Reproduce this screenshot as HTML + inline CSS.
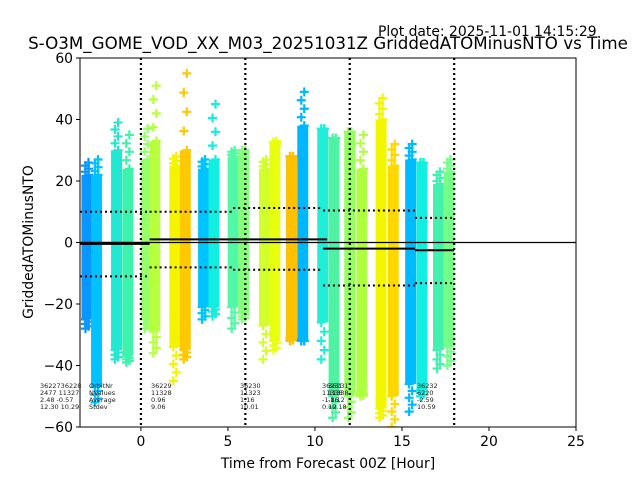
<!DOCTYPE html>
<html><head><meta charset="utf-8"><style>
body{margin:0;background:#fff;}
svg{display:block;font-family:"DejaVu Sans","Liberation Sans",sans-serif;}
</style></head><body>
<svg id="chart" width="640" height="480" xmlns="http://www.w3.org/2000/svg">
<text x="378" y="36" font-size="13.9">Plot date: 2025-11-01 14:15:29</text>
<text x="328" y="49" font-size="16.7" text-anchor="middle">S-O3M_GOME_VOD_XX_M03_20251031Z GriddedATOMinusNTO vs Time</text>
<text x="328" y="468" font-size="13.9" text-anchor="middle">Time from Forecast 00Z [Hour]</text>
<text transform="translate(33,242) rotate(-90)" font-size="13.9" text-anchor="middle">GriddedATOMinusNTO</text>
<g id="plot"></g>
</svg>
<script>
const bandX = [-3.1,-2.55,-1.4,-0.75,0.3,0.8,1.95,2.55,3.6,4.2,5.3,5.9,7.1,7.7,8.65,9.3,10.45,11.1,12,12.7,13.8,14.5,15.5,16.15,17.1,17.7];
const bandTop = [22,22,30,24,27,33,25,30,24,27,28,30,24,33,28,38,37,34,36,24,40,25,27,26,19,23];
const bandBot = [-25,-47,-35,-37,-25,-29,-34,-35,-21,-21,-21,-23,-27,-32,-31,-32,-26,-50,-50,-49,-54,-50,-46,-48,-35,-34];
const outTop = [26,27,39,35,37,51,28,55,27,45,30,30,27,32,28,49,37,34,36,35,47,32,32,26,23,27];
const outBot = [-28,-52,-38,-39,-28,-36,-45,-38,-25,-24,-28,-25,-38,-35,-32,-32,-38,-57,-57,-50,-57,-60,-55,-50,-41,-40];
const bandColor = ["#0a96ff","#00c2ff","#22e8d2","#3cf2ac","#96ff6a","#b8ff3c","#f4f400","#ffc800","#00c4ff","#12eee0","#52f8a8","#86ff7c","#d2ff2c","#e8ff10","#ffc000","#00b6ff","#20eed8","#4ef2a2","#94ff5e","#b0ff3e","#f2f600","#ffd800","#00baff","#12eee0","#42f0b0","#74ff88"];
const vLines = [0,6,12,18];
const meanSegX0 = [-3.5,0.5,10.46,15.75];
const meanSegX1 = [0.5,10.7,15.75,18];
const meanVal = [-0.3,1.0,-2.0,-2.5];
const upperVal = [10,10,10.4,8];
const lowerVal = [-11,-8.1,-14,-13.2];
const upper2X0 = [5.3], upper2X1 = [10.46], upper2Val = [11.2];
const lower2X0 = [5.3], lower2X1 = [10.46], lower2Val = [-8.85];
const xTicks = [0,5,10,15,20,25];
const yTicks = [-60,-40,-20,0,20,40,60];
const statCols = [
 {x:40, lines:["3622736228"," 2477 11327","2.48 -0.57","12.30 10.29"]},
 {x:89, lines:["OrbitNr","NValues","Average","Stdev"]},
 {x:151, lines:["36229","11328","0.96","9.06"]},
 {x:240, lines:["36230","11323","1.16","10.01"]},
 {x:322, lines:["36231","11338","-1.86","0.12"]},
 {x:328, lines:["36231","11338","-1.12","10.18"]},
 {x:417, lines:["36232","6220","-2.59","10.59"]}
];
const L=80,R=576,T=58,B=427,XMIN=-3.5,XMAX=25,YMIN=-60,YMAX=60;
const sx=v=>L+(v-XMIN)/(XMAX-XMIN)*(R-L);
const sy=v=>B-(v-YMIN)/(YMAX-YMIN)*(B-T);
const NS="http://www.w3.org/2000/svg";
const g=document.getElementById('plot');
function mk(tag,attrs,parent){const e=document.createElementNS(NS,tag);for(const k in attrs)e.setAttribute(k,attrs[k]);(parent||g).appendChild(e);return e;}
const defs=mk('defs',{});
const cp=mk('clipPath',{id:'clip'},defs);
mk('rect',{x:L,y:T,width:R-L,height:B-T},cp);
const cg=mk('g',{'clip-path':'url(#clip)'});
function plus(x,y,c){
  const p=mk('path',{d:`M${x-4.5},${y}H${x+4.5}M${x},${y-4.5}V${y+4.5}`,stroke:c,'stroke-width':2.2,fill:'none'},cg);
  
  
}
bandX.forEach((hx,i)=>{
  const cx=sx(hx),w=11,c=bandColor[i];
  const r=mk('rect',{x:cx-w/2,y:sy(bandTop[i]),width:w,height:sy(bandBot[i])-sy(bandTop[i]),fill:c},cg);
  
  
  const n=4;
  for(let k=0;k<=n;k++){
    plus(cx+(k%2?-1.5:1.5),sy(bandTop[i]+(outTop[i]-bandTop[i])*k/n),c);
    plus(cx+(k%2?1.5:-1.5),sy(bandBot[i]+(outBot[i]-bandBot[i])*k/n),c);
  }
});
const z=mk('line',{x1:L,x2:R,y1:sy(0),y2:sy(0),stroke:'#000','stroke-width':1.2},cg);


vLines.forEach(v=>{
  const l=mk('line',{x1:sx(v),x2:sx(v),y1:T,y2:B,stroke:'#000','stroke-width':2.2,'stroke-dasharray':'2,3'},cg);
  
  
});
meanVal.forEach((m,i)=>{
  const l=mk('line',{x1:sx(meanSegX0[i]),x2:sx(meanSegX1[i]),y1:sy(m),y2:sy(m),stroke:'#000','stroke-width':i==0?3:2},cg);
  
  
  [upperVal[i],lowerVal[i]].forEach(v=>{
    const d=mk('line',{x1:sx(meanSegX0[i]),x2:sx(i==1?5.3:meanSegX1[i]),y1:sy(v),y2:sy(v),stroke:'#000','stroke-width':2,'stroke-dasharray':'2,3'},cg);
    
    
  });
});
[[upper2X0,upper2X1,upper2Val],[lower2X0,lower2X1,lower2Val]].forEach(([a,b,v])=>{
  const d=mk('line',{x1:sx(a[0]),x2:sx(b[0]),y1:sy(v[0]),y2:sy(v[0]),stroke:'#000','stroke-width':2,'stroke-dasharray':'2,3'},cg);
  
  
});
statCols.forEach(col=>{
  col.lines.forEach((s,j)=>{
    const t=mk('text',{x:col.x,y:388+j*7,'font-size':6.5,fill:'#222'});
    t.textContent=s;
    
    
  });
});
const fr=mk('rect',{x:L,y:T,width:R-L,height:B-T,fill:'none',stroke:'#000','stroke-width':1});


xTicks.forEach(v=>{
  const l=mk('line',{x1:sx(v),x2:sx(v),y1:B,y2:B+4,stroke:'#000'});
  
  
  const t=mk('text',{x:sx(v),y:B+19,'font-size':13.9,'text-anchor':'middle'});
  t.textContent=v;
  
  
});
yTicks.forEach(v=>{
  const l=mk('line',{x1:L-4,x2:L,y1:sy(v),y2:sy(v),stroke:'#000'});
  
  
  const t=mk('text',{x:L-7,y:sy(v)+5,'font-size':13.9,'text-anchor':'end'});
  t.textContent=v<0?'\u2212'+Math.abs(v):v;
  
  
});
</script>
</body></html>
